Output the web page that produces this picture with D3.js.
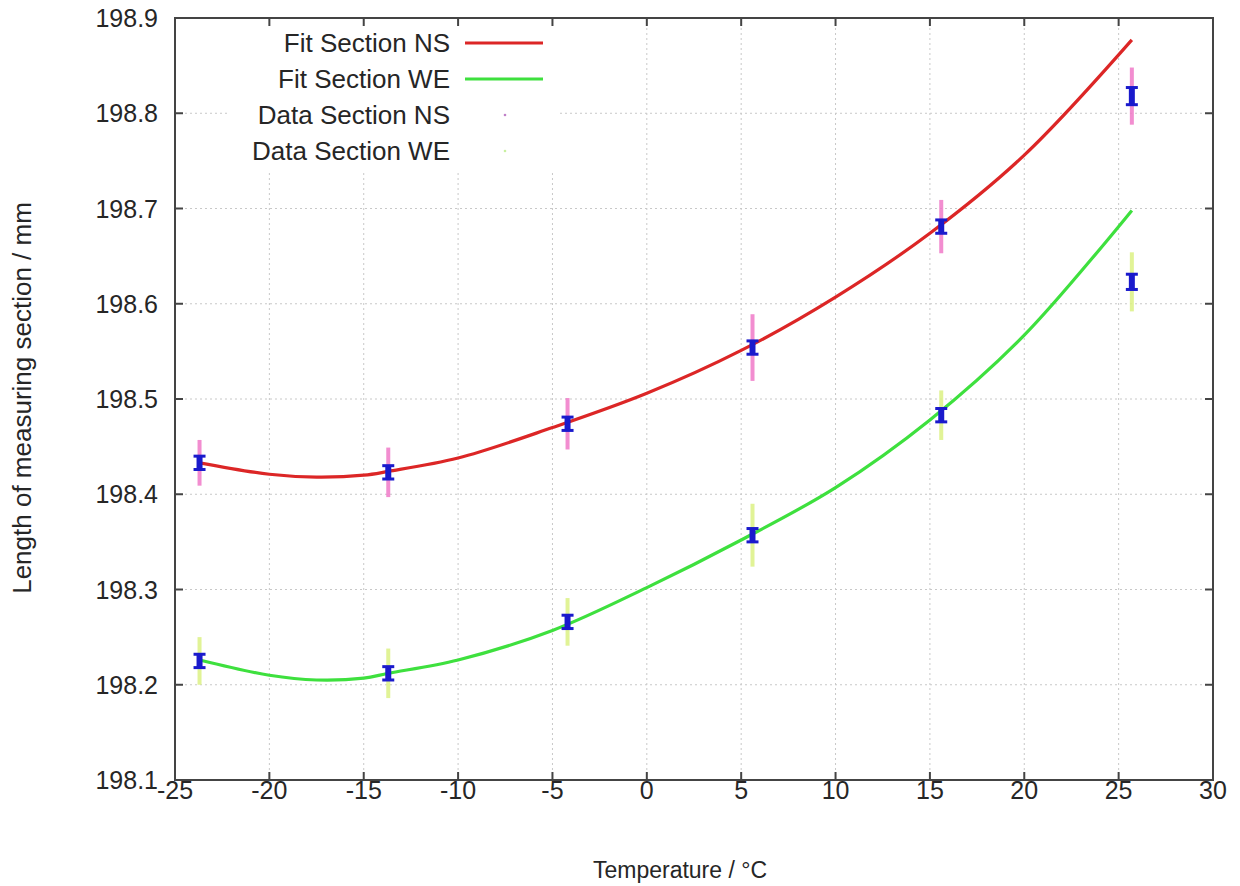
<!DOCTYPE html>
<html>
<head>
<meta charset="utf-8">
<script src="https://cdn.jsdelivr.net/npm/d3@7"></script>
<style>
  body { margin: 0; background: #fff; }
  svg { display: block; font-family: "Liberation Sans", Arial, sans-serif; }
</style>
</head>
<body>
<svg id="chart" width="1240" height="886"></svg>
<script>
// Measured temperatures (°C)
const temps = [-23.7, -13.7, -4.2, 5.6, 15.6, 25.7];

// Section NS: measured lengths (mm), wide and narrow uncertainties
const nsValues = [198.433, 198.423, 198.474, 198.554, 198.681, 198.818];
const nsErrWide = [0.024, 0.026, 0.027, 0.035, 0.028, 0.030];
const nsErrNarrow = [0.007, 0.007, 0.007, 0.007, 0.007, 0.009];

// Section WE: measured lengths (mm), wide and narrow uncertainties
const weValues = [198.225, 198.212, 198.266, 198.357, 198.483, 198.623];
const weErrWide = [0.025, 0.026, 0.025, 0.033, 0.026, 0.031];
const weErrNarrow = [0.007, 0.007, 0.007, 0.007, 0.007, 0.008];

// Fitted curves, sampled along temperature
const fitTemps = [-23.7, -20, -17.5, -15, -13.7, -10, -5, 0, 5, 10, 15, 20, 25.7];
const fitNS = [198.433, 198.421, 198.418, 198.420, 198.424, 198.438, 198.470, 198.506, 198.551, 198.607, 198.674, 198.756, 198.877];
const fitWE = [198.226, 198.210, 198.205, 198.207, 198.212, 198.226, 198.257, 198.302, 198.352, 198.407, 198.478, 198.567, 198.698];

// Axis ticks
const xTicks = [-25, -20, -15, -10, -5, 0, 5, 10, 15, 20, 25, 30];
const yTicks = [198.1, 198.2, 198.3, 198.4, 198.5, 198.6, 198.7, 198.8, 198.9];

// Legend entries
const legendLabels = ["Fit Section NS", "Fit Section WE", "Data Section NS", "Data Section WE"];

const svg = d3.select("#chart");
const m = { left: 175, right: 1213, top: 18, bottom: 780 };
const textColor = "#262626";

const x = d3.scaleLinear().domain([-25, 30]).range([m.left, m.right]);
const y = d3.scaleLinear().domain([198.1, 198.9]).range([m.bottom, m.top]);

// Grid
const grid = svg.append("g");
grid.selectAll(".gx").data(xTicks.slice(1, -1)).join("line")
  .attr("x1", d => x(d)).attr("x2", d => x(d))
  .attr("y1", m.top).attr("y2", m.bottom)
  .attr("stroke", "#c8c8c8").attr("stroke-width", 1).attr("stroke-dasharray", "2,3");
grid.selectAll(".gy").data(yTicks.slice(1, -1)).join("line")
  .attr("x1", m.left).attr("x2", m.right)
  .attr("y1", d => y(d)).attr("y2", d => y(d))
  .attr("stroke", "#c8c8c8").attr("stroke-width", 1).attr("stroke-dasharray", "2,3");

// Legend box (drawn over the grid)
const lg = svg.append("g");
lg.append("rect").attr("x", 230).attr("y", 24).attr("width", 330).attr("height", 148).attr("fill", "#fff");

// Fit curves
const line = d3.line().x(d => x(d[0])).y(d => y(d[1])).curve(d3.curveCatmullRom.alpha(0.5));
svg.append("path").datum(fitTemps.map((t, i) => [t, fitNS[i]]))
  .attr("d", line).attr("fill", "none").attr("stroke", "#dc2626").attr("stroke-width", 3.2);
svg.append("path").datum(fitTemps.map((t, i) => [t, fitWE[i]]))
  .attr("d", line).attr("fill", "none").attr("stroke", "#3ee03e").attr("stroke-width", 3.2);

// Data with error bars
function drawData(values, wide, narrow, wideColor) {
  const g = svg.append("g");
  g.selectAll(".wide").data(temps).join("line")
    .attr("x1", d => x(d)).attr("x2", d => x(d))
    .attr("y1", (d, i) => y(values[i] + wide[i]))
    .attr("y2", (d, i) => y(values[i] - wide[i]))
    .attr("stroke", wideColor).attr("stroke-width", 4).attr("opacity", 0.85);
  g.selectAll(".narrow").data(temps).join("line")
    .attr("x1", d => x(d)).attr("x2", d => x(d))
    .attr("y1", (d, i) => y(values[i] + narrow[i]))
    .attr("y2", (d, i) => y(values[i] - narrow[i]))
    .attr("stroke", "#1a1acc").attr("stroke-width", 6);
  [1, -1].forEach(s => {
    g.selectAll(".cap" + s).data(temps).join("line")
      .attr("x1", d => x(d) - 6).attr("x2", d => x(d) + 6)
      .attr("y1", (d, i) => y(values[i] + s * narrow[i]))
      .attr("y2", (d, i) => y(values[i] + s * narrow[i]))
      .attr("stroke", "#1a1acc").attr("stroke-width", 3);
  });
}
drawData(nsValues, nsErrWide, nsErrNarrow, "#f07ac8");
drawData(weValues, weErrWide, weErrNarrow, "#dcf284");

// Frame
svg.append("rect").attr("x", m.left).attr("y", m.top)
  .attr("width", m.right - m.left).attr("height", m.bottom - m.top)
  .attr("fill", "none").attr("stroke", "#444").attr("stroke-width", 2);

// Tick marks on all sides
const tk = svg.append("g").attr("stroke", "#444").attr("stroke-width", 2);
tk.selectAll(".xb").data(xTicks).join("line")
  .attr("x1", d => x(d)).attr("x2", d => x(d)).attr("y1", m.bottom).attr("y2", m.bottom - 8);
tk.selectAll(".xt").data(xTicks).join("line")
  .attr("x1", d => x(d)).attr("x2", d => x(d)).attr("y1", m.top).attr("y2", m.top + 8);
tk.selectAll(".yl").data(yTicks).join("line")
  .attr("y1", d => y(d)).attr("y2", d => y(d)).attr("x1", m.left).attr("x2", m.left + 8);
tk.selectAll(".yr").data(yTicks).join("line")
  .attr("y1", d => y(d)).attr("y2", d => y(d)).attr("x1", m.right).attr("x2", m.right - 8);

// Tick labels
svg.append("g").selectAll("text").data(xTicks).join("text")
  .attr("x", d => x(d)).attr("y", 799).attr("text-anchor", "middle")
  .attr("font-size", 25).attr("fill", textColor).text(d => d);
svg.append("g").selectAll("text").data(yTicks).join("text")
  .attr("x", 158).attr("y", d => y(d) + 9).attr("text-anchor", "end")
  .attr("font-size", 25).attr("fill", textColor).text(d => d.toFixed(1));

// Axis titles
svg.append("text").attr("x", 680).attr("y", 878).attr("text-anchor", "middle")
  .attr("font-size", 23).attr("fill", textColor).text("Temperature / °C");
svg.append("text").attr("transform", "translate(31,398) rotate(-90)")
  .attr("text-anchor", "middle").attr("font-size", 26).attr("fill", textColor)
  .text("Length of measuring section / mm");

// Legend entries
const legendColors = ["#dc2626", "#3ee03e", "#c080c8", "#c8f0a0"];
legendLabels.forEach((lab, i) => {
  const yy = 43 + i * 36;
  lg.append("text").attr("x", 450).attr("y", yy + 9).attr("text-anchor", "end")
    .attr("font-size", 26).attr("fill", textColor).text(lab);
  if (i < 2) {
    lg.append("line").attr("x1", 465).attr("x2", 543).attr("y1", yy).attr("y2", yy)
      .attr("stroke", legendColors[i]).attr("stroke-width", 3.2);
  } else {
    lg.append("circle").attr("cx", 505).attr("cy", yy).attr("r", 1.3)
      .attr("fill", legendColors[i]);
  }
});
</script>
</body>
</html>
